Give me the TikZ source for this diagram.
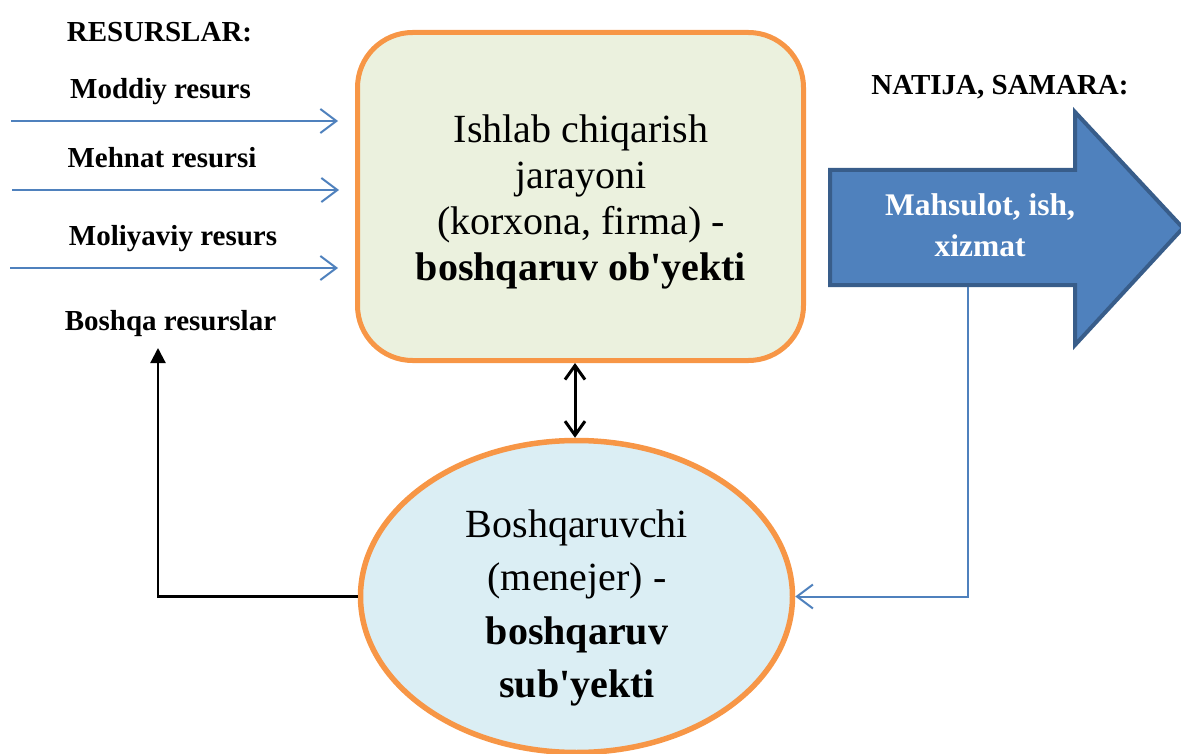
\documentclass[tikz,border=0pt]{standalone}
\usepackage{fontspec}
\setmainfont{Liberation Serif}[Ligatures=TeXOff]
\usetikzlibrary{arrows.meta,shapes.geometric}
\definecolor{orng}{HTML}{F79646}
\definecolor{boxfill}{HTML}{EBF1DE}
\definecolor{ellfill}{HTML}{DBEEF4}
\definecolor{blu}{HTML}{4F81BD}
\definecolor{bluedge}{HTML}{385D8A}
\tikzset{
  lbl/.style={anchor=base, font=\fontsize{29}{33}\selectfont\bfseries, inner sep=0},
  inarrow/.style={draw=blu, line width=2pt, -{Straight Barb[length=16pt,width=24pt,line width=2pt]}},
  dblarrow/.style={draw=black, line width=3pt, {Straight Barb[length=14pt,width=20pt,line width=3pt]}-{Straight Barb[length=14pt,width=20pt,line width=3pt]}},
  fbarrow/.style={draw=black, line width=2.2pt, -{Triangle[length=15pt,width=15pt]}},
}
\begin{document}
\begin{tikzpicture}[x=1pt,y=-1pt]
\useasboundingbox (0,0) rectangle (1181,754);
\clip (0,0) rectangle (1181,754);
% main box
\node[draw=orng, line width=5pt, fill=boxfill, rounded corners=55pt,
      minimum width=446pt, minimum height=328pt, inner sep=0] (box) at (580.5,196.5) {};
\node[align=center, inner sep=0, font=\fontsize{40}{46}\selectfont] (boxtxt) at (581,202)
  {Ishlab chiqarish\\jarayoni\\(korxona, firma) -\\\textbf{boshqaruv ob'yekti}};
% ellipse
\node[ellipse, draw=orng, line width=5.5pt, fill=ellfill, minimum width=432pt,
      minimum height=312pt, inner sep=0] (ell) at (576.5,596.5) {};
\node[align=center, inner sep=0, font=\fontsize{40}{53.5}\selectfont] (elltxt) at (577,608)
  {Boshqaruvchi\\(menejer) -\\\textbf{boshqaruv}\\\textbf{sub'yekti}};
% big arrow
\draw[fill=blu, draw=bluedge, line width=4pt, line join=miter]
  (830,170) -- (1075,170) -- (1075,112) -- (1183,228) -- (1075,345) -- (1075,285) -- (830,285) -- cycle;
\node[align=center, inner sep=0, text=white, font=\fontsize{31.5}{41}\selectfont\bfseries] (arrtxt) at (980,225)
  {Mahsulot, ish,\\xizmat};
\coordinate (arrbot) at (968,287);
% labels
\node[lbl] (res) at (159.5,42) {RESURSLAR:};
\node[lbl] (l1) at (160.5,99) {Moddiy resurs};
\node[lbl] (l2) at (162,168) {Mehnat resursi};
\node[lbl] (l3) at (173,246) {Moliyaviy resurs};
\node[lbl] (l4) at (170.5,330) {Boshqa resurslar};
\node[lbl] (nat) at (1000,95) {NATIJA, SAMARA:};
% input arrows
\coordinate (s1) at (11,121); \coordinate (e1) at (338,121);
\coordinate (s2) at (12,190); \coordinate (e2) at (339,190);
\coordinate (s3) at (10,268); \coordinate (e3) at (338,268);
\draw[inarrow] (s1) -- (e1);
\draw[inarrow] (s2) -- (e2);
\draw[inarrow] (s3) -- (e3);
% double arrow
\draw[dblarrow] (box.south -| 575,0) -- (ell.north -| 575,0);
% feedback
\coordinate (fbtop) at (158,348);
\draw[fbarrow] (ell.west) -| (fbtop);
% return line
\draw[inarrow] (arrbot) |- (ell.east);
\end{tikzpicture}
\end{document}
